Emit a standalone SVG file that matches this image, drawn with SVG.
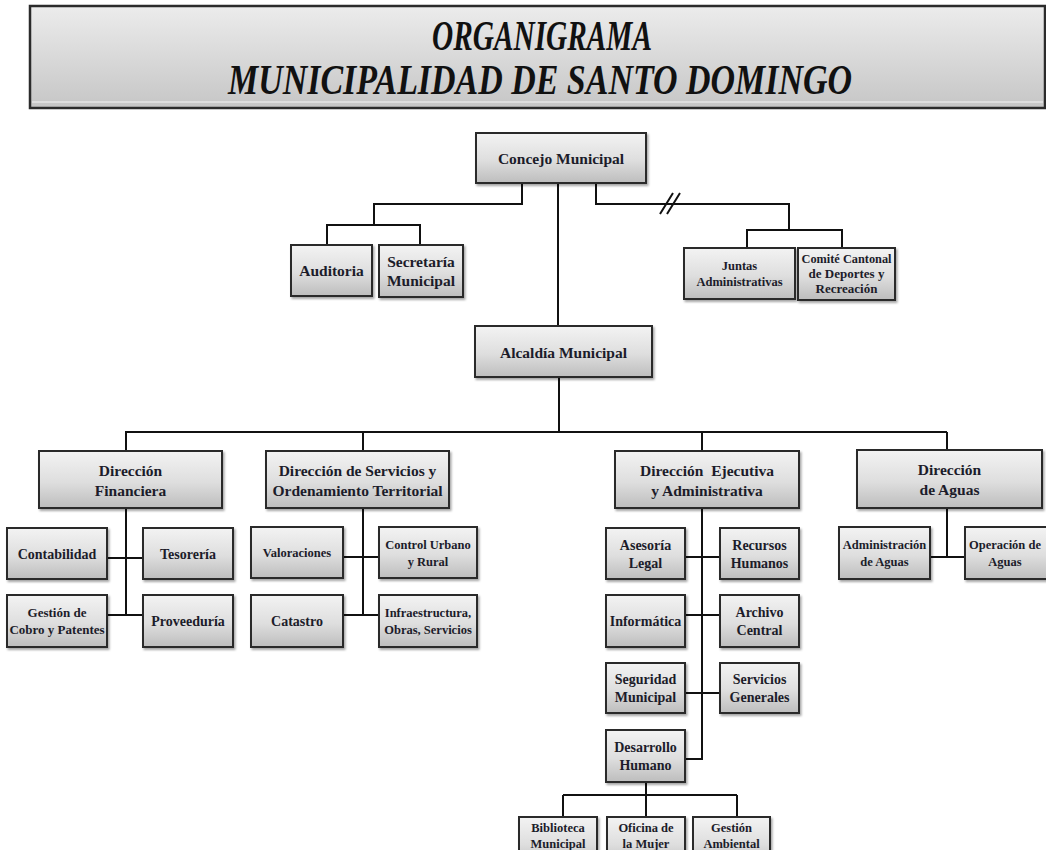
<svg xmlns="http://www.w3.org/2000/svg" width="1046" height="850" viewBox="0 0 1046 850">
<defs>
<linearGradient id="gBox" x1="0" y1="0" x2="0" y2="1">
<stop offset="0" stop-color="#f3f3f3"/>
<stop offset="0.55" stop-color="#dedede"/>
<stop offset="1" stop-color="#bdbdbd"/>
</linearGradient>
<linearGradient id="gHead" x1="0" y1="0" x2="0" y2="1">
<stop offset="0" stop-color="#ececec"/>
<stop offset="1" stop-color="#c6c6c6"/>
</linearGradient>
<filter id="sh" x="-10%" y="-10%" width="130%" height="140%">
<feDropShadow dx="1.5" dy="2" stdDeviation="1.2" flood-color="#000" flood-opacity="0.35"/>
</filter>
</defs>
<style>
.box{fill:url(#gBox);stroke:#2b2b2b;stroke-width:2;filter:url(#sh)}
.t{font-family:"Liberation Serif","Times New Roman",serif;font-weight:bold;fill:#1c1c2a;text-anchor:middle}
.s14{font-size:15.5px}
.s13{font-size:14px}
.s12{font-size:12.5px}
.sg{font-size:13px}
.ln{fill:none;stroke:#111;stroke-width:2}
.hd{font-family:"Liberation Serif","Times New Roman",serif;font-style:italic;font-weight:bold;font-size:42px;fill:#111;text-anchor:middle}
</style>
<rect width="1046" height="850" fill="#fff"/>
<g id="header">
<rect x="30" y="6" width="1015" height="102" fill="url(#gHead)" stroke="#2b2b2b" stroke-width="2.5"/>
<line x1="32" y1="102" x2="1043" y2="102" stroke="#e6e6e6" stroke-width="1.5"/>
<text class="hd" x="542" y="50" textLength="220" lengthAdjust="spacingAndGlyphs">ORGANIGRAMA</text>
<text class="hd" x="540" y="94" textLength="624" lengthAdjust="spacingAndGlyphs">MUNICIPALIDAD DE SANTO DOMINGO</text>
</g>
<g id="connectors">
<path class="ln" d="M558 183 V326"/>
<path class="ln" d="M559 377 V432"/>
<path class="ln" d="M125 432 H947"/>
<path class="ln" d="M126 432 V451 M363 432 V451 M702 432 V451 M947 432 V450"/>
<path class="ln" d="M522 183 V204 H374 V225 M327 245 V225 H420 V245"/>
<path class="ln" d="M596 183 V204 H789 V230 M747 248 V230 H842 V248"/>
<path class="ln" d="M660 214 L673 193 M667 214 L680 193"/>
<path class="ln" d="M126 508 V615 M107 558 H143 M107 615 H143"/>
<path class="ln" d="M363 508 V615 M343 557 H379 M343 615 H379"/>
<path class="ln" d="M702 508 V759 H685 M685 557 H720 M685 615 H720 M685 693 H720"/>
<path class="ln" d="M646 782 V795 M563 795 H737 M563 795 V817 M646 795 V817 M737 795 V817"/>
<path class="ln" d="M947 508 V557 M930 557 H965"/>
</g>
<g id="concejo"><rect class="box" x="476" y="133" width="170" height="50"/><text class="t s14" x="561" y="164">Concejo Municipal</text></g>
<g id="auditoria"><rect class="box" x="291" y="245" width="81" height="51"/><text class="t s14" x="331.5" y="276">Auditoria</text></g>
<g id="secretaria"><rect class="box" x="379" y="245" width="84" height="52"/><text class="t s14" x="421" y="267">Secretaría</text><text class="t s14" x="421" y="286">Municipal</text></g>
<g id="juntas"><rect class="box" x="684" y="248" width="111" height="51"/><text class="t s12" x="739.5" y="270">Juntas</text><text class="t s12" x="739.5" y="286">Administrativas</text></g>
<g id="comite"><rect class="box" x="798" y="248" width="97" height="52"/><text class="t sg" x="846.5" y="263" textLength="90" lengthAdjust="spacingAndGlyphs">Comité Cantonal</text><text class="t sg" x="846.5" y="278">de Deportes y</text><text class="t sg" x="846.5" y="293">Recreación</text></g>
<g id="alcaldia"><rect class="box" x="475" y="326" width="177" height="51"/><text class="t s14" x="563.5" y="358">Alcaldía Municipal</text></g>
<g id="dir-financiera"><rect class="box" x="39" y="451" width="183" height="57"/><text class="t s14" x="130.5" y="476">Dirección</text><text class="t s14" x="130.5" y="496">Financiera</text></g>
<g id="dir-servicios"><rect class="box" x="266" y="451" width="183" height="57"/><text class="t s14" x="357.5" y="476">Dirección de Servicios y</text><text class="t s14" x="357.5" y="496">Ordenamiento Territorial</text></g>
<g id="dir-ejecutiva"><rect class="box" x="615" y="451" width="184" height="57"/><text class="t s14" x="707" y="476" xml:space="preserve">Dirección  Ejecutiva</text><text class="t s14" x="707" y="496">y Administrativa</text></g>
<g id="dir-aguas"><rect class="box" x="857" y="450" width="185" height="58"/><text class="t s14" x="949.5" y="475">Dirección</text><text class="t s14" x="949.5" y="495">de Aguas</text></g>
<g id="contabilidad"><rect class="box" x="7" y="528" width="100" height="51"/><text class="t s13" x="57" y="559">Contabilidad</text></g>
<g id="tesoreria"><rect class="box" x="143" y="528" width="90" height="51"/><text class="t s13" x="188" y="559">Tesorería</text></g>
<g id="gestion-cobro"><rect class="box" x="7" y="595" width="100" height="52"/><text class="t sg" x="57" y="617">Gestión de</text><text class="t sg" x="57" y="634">Cobro y Patentes</text></g>
<g id="proveeduria"><rect class="box" x="143" y="595" width="90" height="52"/><text class="t s13" x="188" y="626">Proveeduría</text></g>
<g id="valoraciones"><rect class="box" x="251" y="527" width="92" height="51"/><text class="t s12" x="297" y="557">Valoraciones</text></g>
<g id="control-urbano"><rect class="box" x="379" y="527" width="98" height="51"/><text class="t s12" x="428" y="549">Control Urbano</text><text class="t s12" x="428" y="566">y Rural</text></g>
<g id="catastro"><rect class="box" x="251" y="595" width="92" height="52"/><text class="t s13" x="297" y="626">Catastro</text></g>
<g id="infraestructura"><rect class="box" x="379" y="595" width="98" height="52"/><text class="t s12" x="428" y="617">Infraestructura,</text><text class="t s12" x="428" y="634">Obras, Servicios</text></g>
<g id="asesoria"><rect class="box" x="606" y="528" width="79" height="51"/><text class="t s13" x="645.5" y="550">Asesoría</text><text class="t s13" x="645.5" y="568">Legal</text></g>
<g id="rrhh"><rect class="box" x="720" y="528" width="79" height="51"/><text class="t s13" x="759.5" y="550">Recursos</text><text class="t s13" x="759.5" y="568">Humanos</text></g>
<g id="informatica"><rect class="box" x="606" y="595" width="79" height="52"/><text class="t s13" x="645.5" y="626">Informática</text></g>
<g id="archivo"><rect class="box" x="720" y="595" width="79" height="52"/><text class="t s13" x="759.5" y="617">Archivo</text><text class="t s13" x="759.5" y="635">Central</text></g>
<g id="seguridad"><rect class="box" x="606" y="663" width="79" height="50"/><text class="t s13" x="645.5" y="684">Seguridad</text><text class="t s13" x="645.5" y="702">Municipal</text></g>
<g id="servicios-generales"><rect class="box" x="720" y="663" width="79" height="50"/><text class="t s13" x="759.5" y="684">Servicios</text><text class="t s13" x="759.5" y="702">Generales</text></g>
<g id="desarrollo"><rect class="box" x="606" y="730" width="79" height="52"/><text class="t s13" x="645.5" y="752">Desarrollo</text><text class="t s13" x="645.5" y="770">Humano</text></g>
<g id="biblioteca"><rect class="box" x="519" y="817" width="78" height="50"/><text class="t s12" x="558" y="832">Biblioteca</text><text class="t s12" x="558" y="848">Municipal</text></g>
<g id="oficina-mujer"><rect class="box" x="607" y="817" width="78" height="50"/><text class="t s12" x="646" y="832">Oficina de</text><text class="t s12" x="646" y="848">la Mujer</text></g>
<g id="gestion-ambiental"><rect class="box" x="693" y="817" width="77" height="50"/><text class="t s12" x="731.5" y="832">Gestión</text><text class="t s12" x="731.5" y="848">Ambiental</text></g>
<g id="adm-aguas"><rect class="box" x="839" y="527" width="91" height="52"/><text class="t s12" x="884.5" y="549">Administración</text><text class="t s12" x="884.5" y="566">de Aguas</text></g>
<g id="op-aguas"><rect class="box" x="965" y="527" width="85" height="52"/><text class="t s12" x="1005" y="549">Operación de</text><text class="t s12" x="1005" y="566">Aguas</text></g>
</svg>
